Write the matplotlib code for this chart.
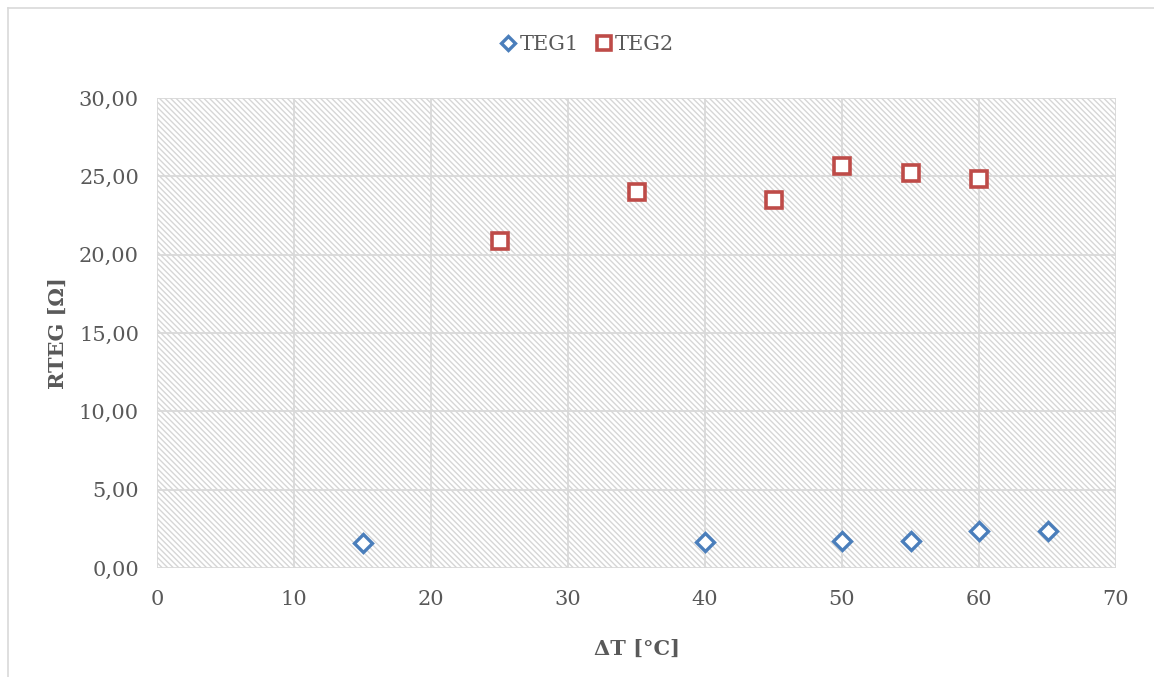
import matplotlib
matplotlib.use('Agg')
import matplotlib.pyplot as plt
from matplotlib.patches import Rectangle
from matplotlib.lines import Line2D
from matplotlib.ticker import FuncFormatter

# data
teg1_dt = [15, 40, 50, 55, 60, 65]
teg1_r = [1.60, 1.65, 1.70, 1.75, 2.35, 2.35]
teg2_dt = [25, 35, 45, 50, 55, 60]
teg2_r = [20.85, 24.0, 23.5, 25.65, 25.2, 24.85]

x_ticks = [0, 10, 20, 30, 40, 50, 60, 70]
y_ticks = [0, 5, 10, 15, 20, 25, 30]

plt.rcParams['font.family'] = ['DejaVu Serif']
plt.rcParams['hatch.color'] = '#d6d6d6'
plt.rcParams['hatch.linewidth'] = 1.0
txt = '#595959'

fig = plt.figure(figsize=(11.54, 6.77), dpi=100)
ax = fig.add_axes([157 / 1154, 1 - 568 / 677, (1116 - 157) / 1154, (568 - 98) / 677])

# outer chart border (only top and left are visible in the reference)
fig.add_artist(Line2D([7.5 / 1154, 1], [1 - 8 / 677, 1 - 8 / 677], transform=fig.transFigure,
                      color='#d9d9d9', linewidth=1.2))
fig.add_artist(Line2D([7.5 / 1154, 7.5 / 1154], [0, 1 - 8 / 677], transform=fig.transFigure,
                      color='#d9d9d9', linewidth=1.2))

# hatched plot area
ax.add_patch(Rectangle((0, 0), 1, 1, transform=ax.transAxes, facecolor='white',
                       hatch='\\\\\\\\\\\\', edgecolor='#d6d6d6', linewidth=0, zorder=0))

ax.set_xlim(0, 70)
ax.set_ylim(0, 30)
ax.set_xticks(x_ticks)
ax.set_yticks(y_ticks)
ax.yaxis.set_major_formatter(FuncFormatter(lambda v, p: f'{v:.2f}'.replace('.', ',')))
ax.grid(True, color='#d9d9d9', linewidth=1.3, zorder=1)
ax.set_axisbelow(True)
for s in ax.spines.values():
    s.set_visible(False)
ax.tick_params(length=0, labelsize=15, labelcolor=txt)
ax.tick_params(axis='x', pad=16)
ax.tick_params(axis='y', pad=13)

ax.plot(teg1_dt, teg1_r, linestyle='none', marker='D', markersize=9.5,
        markerfacecolor='white', markeredgecolor='#4a7ebb', markeredgewidth=2.4,
        label='TEG1', zorder=3, clip_on=False)
ax.plot(teg2_dt, teg2_r, linestyle='none', marker='s', markersize=12,
        markerfacecolor='white', markeredgecolor='#be4b48', markeredgewidth=2.6,
        label='TEG2', zorder=3, clip_on=False)

ax.set_xlabel('ΔT [°C]', fontsize=15, fontweight='bold', color=txt, labelpad=21)
ax.set_ylabel('RTEG [Ω]', fontsize=15, fontweight='bold', color=txt, labelpad=8)

leg = fig.legend(loc='center', bbox_to_anchor=(0.5 + 9 / 1154, 1 - 45 / 677), ncol=2,
                 frameon=False, fontsize=15, handletextpad=0.05, columnspacing=0.7,
                 handlelength=1.0, markerscale=0.8)
for t in leg.get_texts():
    t.set_color(txt)

fig.savefig('out.png', dpi=100)
